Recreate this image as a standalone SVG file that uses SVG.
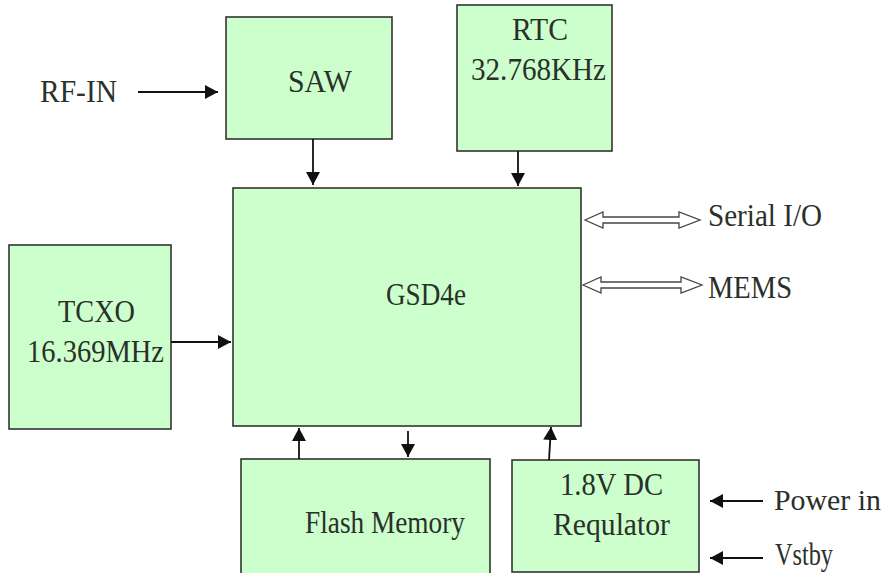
<svg xmlns="http://www.w3.org/2000/svg" width="886" height="573" viewBox="0 0 886 573">
<style>
.box{fill:#ccffcc;stroke:#333;stroke-width:1.6}
.t{font-family:"Liberation Serif","DejaVu Serif","Times New Roman",serif;font-size:32px;fill:#2a302a}
.ln{stroke:#111;stroke-width:1.8;fill:none}
.dbl{fill:#fff;stroke:#444;stroke-width:1.3}
</style>
<defs>
<marker id="ah" markerUnits="userSpaceOnUse" markerWidth="14" markerHeight="14" refX="13" refY="7" orient="auto" viewBox="0 0 14 14">
<path d="M0,0 L13,7 L0,14 z" fill="#111"/>
</marker>
</defs>
<rect width="886" height="573" fill="#fff"/>
<g id="saw"><rect class="box" x="226" y="17" width="166" height="122"/><text class="t" x="288" y="92" textLength="64" lengthAdjust="spacingAndGlyphs">SAW</text></g>
<g id="rtc"><rect class="box" x="457" y="5" width="155" height="146"/><text class="t" x="512" y="40" textLength="56" lengthAdjust="spacingAndGlyphs">RTC</text><text class="t" x="471" y="80" textLength="135" lengthAdjust="spacingAndGlyphs">32.768KHz</text></g>
<g id="gsd4e"><rect class="box" x="233" y="188" width="348" height="238"/><text class="t" x="386" y="305" textLength="80" lengthAdjust="spacingAndGlyphs">GSD4e</text></g>
<g id="tcxo"><rect class="box" x="9" y="245" width="162" height="184"/><text class="t" x="58" y="322" textLength="77" lengthAdjust="spacingAndGlyphs">TCXO</text><text class="t" x="27" y="362" textLength="137" lengthAdjust="spacingAndGlyphs">16.369MHz</text></g>
<g id="flash"><rect class="box" x="241" y="459" width="249" height="125"/><text class="t" x="305" y="533" textLength="160" lengthAdjust="spacingAndGlyphs">Flash Memory</text></g>
<g id="regulator"><rect class="box" x="512" y="460" width="187" height="112"/><text class="t" x="560" y="495" textLength="103" lengthAdjust="spacingAndGlyphs">1.8V DC</text><text class="t" x="553" y="535" textLength="117" lengthAdjust="spacingAndGlyphs">Requlator</text></g>
<g id="labels">
<text class="t" x="40" y="102" textLength="77" lengthAdjust="spacingAndGlyphs">RF-IN</text>
<text class="t" x="708" y="226" textLength="114" lengthAdjust="spacingAndGlyphs">Serial I/O</text>
<text class="t" x="708" y="298" textLength="84" lengthAdjust="spacingAndGlyphs">MEMS</text>
<text class="t" x="774" y="510" font-size="30" textLength="107" lengthAdjust="spacingAndGlyphs" style="font-size:30px">Power in</text>
<text class="t" x="775" y="565" textLength="58" lengthAdjust="spacingAndGlyphs">Vstby</text>
</g>
<g id="connectors">
<line class="ln" x1="138" y1="92" x2="218" y2="92" marker-end="url(#ah)"/>
<line class="ln" x1="313" y1="139" x2="313" y2="185" marker-end="url(#ah)"/>
<line class="ln" x1="518" y1="151" x2="518" y2="186" marker-end="url(#ah)"/>
<line class="ln" x1="171" y1="342" x2="231" y2="342" marker-end="url(#ah)"/>
<line class="ln" x1="299" y1="459" x2="299" y2="428" marker-end="url(#ah)"/>
<line class="ln" x1="408" y1="431" x2="408" y2="457" marker-end="url(#ah)"/>
<line class="ln" x1="549" y1="460" x2="551" y2="427" marker-end="url(#ah)"/>
<line class="ln" x1="763" y1="501" x2="710" y2="501" marker-end="url(#ah)"/>
<line class="ln" x1="763" y1="558" x2="710" y2="558" marker-end="url(#ah)"/>
<polygon class="dbl" points="585,220 603,212 603,217 679,217 679,212 700,220 679,228 679,223 603,223 603,228"/>
<polygon class="dbl" points="583,285 601,277 601,282 681,282 681,277 702,285 681,293 681,288 601,288 601,293"/>
</g>
</svg>
